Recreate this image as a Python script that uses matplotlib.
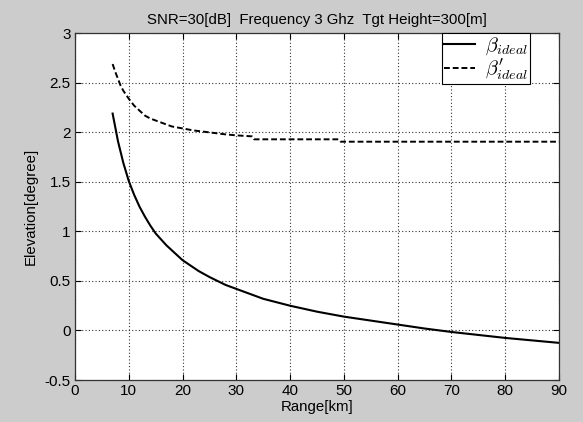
import matplotlib.pyplot as plt
import numpy as np

plt.rcParams['font.family'] = ['Liberation Sans', 'DejaVu Sans']
plt.rcParams['mathtext.fontset'] = 'cm'

# solid curve: beta_ideal
range_solid = [7, 8, 9, 10, 11, 12, 13, 14, 15, 17, 20, 23, 25, 28, 30, 35,
               40, 45, 50, 55, 60, 65, 70, 75, 80, 85, 90]
beta_ideal = [2.19, 1.91, 1.69, 1.51, 1.37, 1.25, 1.15, 1.06, 0.98, 0.86, 0.71,
              0.60, 0.54, 0.46, 0.42, 0.32, 0.25, 0.19, 0.14, 0.10, 0.06,
              0.02, -0.015, -0.045, -0.075, -0.10, -0.125]

# dashed curve: beta'_ideal (stair-like)
range_dash = [7, 7.5, 8, 8.5, 9, 10, 11, 12, 13, 14, 15, 16, 18, 20, 22, 25,
              28, 30, 32.9, 33.3, 49.0, 49.4, 90]
beta_ideal_p = [2.69, 2.61, 2.54, 2.47, 2.42, 2.34, 2.27, 2.22, 2.17, 2.14, 2.12,
                2.10, 2.06, 2.04, 2.02, 2.00, 1.98, 1.97, 1.96, 1.93, 1.93,
                1.906, 1.906]

xticks = np.arange(0, 91, 10)
yticks = [-0.5, 0, 0.5, 1, 1.5, 2, 2.5, 3]
ytick_labels = ['-0.5', '0', '0.5', '1', '1.5', '2', '2.5', '3']

fig = plt.figure(figsize=(5.83, 4.22), dpi=100, facecolor='#cccccc')
ax = fig.add_axes([0.1286, 0.0995, 0.8302, 0.8215])
ax.set_facecolor('white')

ax.plot(range_solid, beta_ideal, color='black', lw=1.5, label=r'$\beta_{ideal}$')
ax.plot(range_dash, beta_ideal_p, color='black', lw=1.4, dashes=(3, 1.5),
        label=r"$\beta^{\prime}_{ideal}$")

ax.set_xlim(0, 90)
ax.set_ylim(-0.5, 3)
ax.set_xticks(xticks)
ax.set_yticks(yticks)
ax.set_yticklabels(ytick_labels)
ax.grid(True, color='#333333', linestyle=(0, (1, 2)), linewidth=0.8)
ax.tick_params(direction='in', top=True, right=True, labelsize=11,
               length=4, width=0.8, colors='black', pad=3)
for s in ax.spines.values():
    s.set_color('#333333')
    s.set_linewidth(0.9)

ax.set_title('SNR=30[dB]  Frequency 3 Ghz  Tgt Height=300[m]', fontsize=10.8, pad=7)
ax.set_xlabel('Range[km]', fontsize=10.8, labelpad=1)
ax.set_ylabel('Elevation[degree]', fontsize=10.8, labelpad=5)

leg = ax.legend(loc='upper right', bbox_to_anchor=(0.94, 1.0), fontsize=14.5,
                frameon=True, fancybox=False, framealpha=1, edgecolor='black',
                handlelength=1.5, handletextpad=0.5, borderpad=0.1,
                labelspacing=0.0, borderaxespad=0)
leg.get_frame().set_linewidth(0.8)

fig.savefig('out.png', dpi=100, facecolor=fig.get_facecolor())
